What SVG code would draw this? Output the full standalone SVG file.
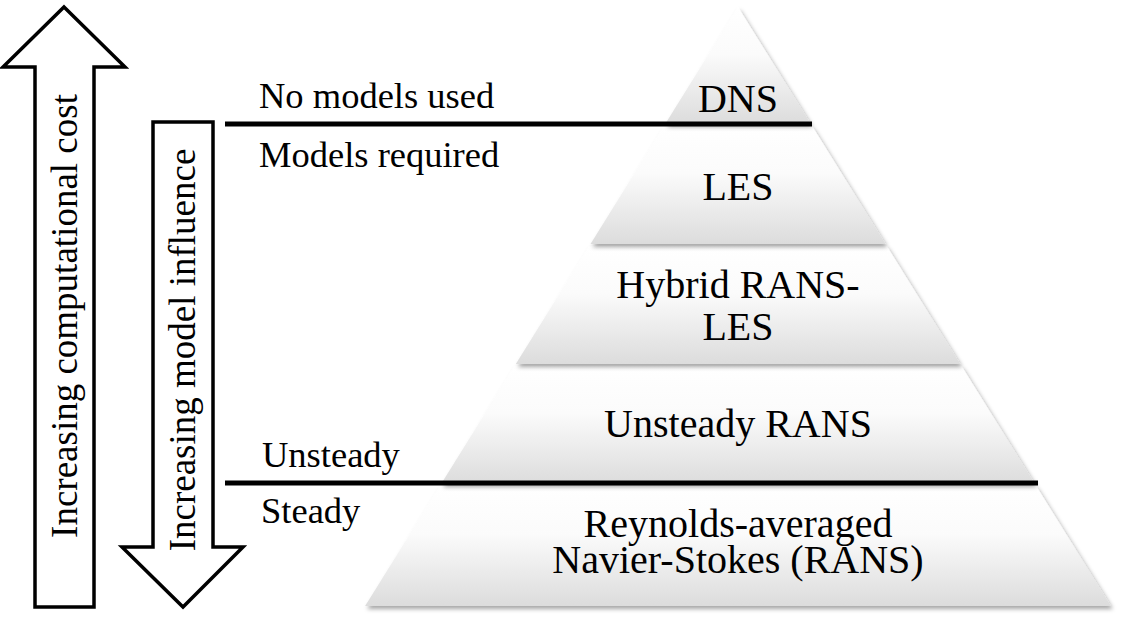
<svg xmlns="http://www.w3.org/2000/svg" width="1124" height="627" viewBox="0 0 1124 627">
  <style>
    text { font-family: "Liberation Serif", Tinos, "Times New Roman", Times, "Nimbus Roman", "Nimbus Roman No9 L", FreeSerif, "Noto Serif", "DejaVu Serif", serif; fill: #000; }
    .lbl { font-size: 36.5px; }
    .vlbl { font-size: 37px; text-anchor: middle; }
    .tier { font-size: 40px; text-anchor: middle; }
    .layer { fill: url(#grad); filter: url(#shadow); }
    .arrow { fill: #fff; stroke: #000; stroke-width: 3.5; stroke-linejoin: miter; }
    .sep { stroke: #000; stroke-width: 5; }
  </style>
  <defs>
    <linearGradient id="grad" x1="0" y1="0" x2="0" y2="1">
      <stop offset="0" stop-color="#ffffff"/>
      <stop offset="0.4" stop-color="#fbfbfb"/>
      <stop offset="1" stop-color="#dcdcdc"/>
    </linearGradient>
    <filter id="shadow" x="-10%" y="-10%" width="120%" height="130%">
      <feDropShadow dx="2" dy="3" stdDeviation="2" flood-color="#000" flood-opacity="0.35"/>
    </filter>
  </defs>
  <rect width="1124" height="627" fill="#fff"/>

  <g id="arrow-cost">
    <polygon class="arrow" points="64,7 125,67 94,67 94,607 35,607 35,67 3,67"/>
    <text class="vlbl" transform="translate(77,316) rotate(-90)">Increasing computational cost</text>
  </g>
  <g id="arrow-influence">
    <polygon class="arrow" points="153,122 213,122 213,547 243,547 183,607 122,547 153,547"/>
    <text class="vlbl" transform="translate(195,350) rotate(-90)">Increasing model influence</text>
  </g>

  <g id="layer-rans">
    <polygon class="layer" points="439.8,486 1036.2,486 1110.9,606 365.1,606"/>
    <text class="tier" x="738" y="537">Reynolds-averaged</text>
    <text class="tier" x="738" y="573">Navier-Stokes (RANS)</text>
  </g>
  <g id="layer-urans">
    <polygon class="layer" points="514.5,366 961.5,366 1034.9,484 441.1,484"/>
    <text class="tier" x="738" y="437">Unsteady RANS</text>
  </g>
  <g id="layer-hybrid">
    <polygon class="layer" points="589.2,246 886.8,246 960.2,364 515.8,364"/>
    <text class="tier" x="738" y="298">Hybrid RANS-</text>
    <text class="tier" x="738" y="340">LES</text>
  </g>
  <g id="layer-les">
    <polygon class="layer" points="663.9,126 812.1,126 885.5,244 590.5,244"/>
    <text class="tier" x="738" y="200">LES</text>
  </g>
  <g id="layer-dns">
    <polygon class="layer" points="738,7 810.8,124 665.2,124"/>
    <text class="tier" x="738" y="112">DNS</text>
  </g>

  <g id="separators">
    <line class="sep" x1="225" y1="124" x2="812" y2="124"/>
    <line class="sep" x1="225" y1="483" x2="1038" y2="483"/>
  </g>

  <g id="side-labels">
    <text class="lbl" x="259" y="108">No models used</text>
    <text class="lbl" x="259" y="167">Models required</text>
    <text class="lbl" x="262" y="467">Unsteady</text>
    <text class="lbl" x="261" y="523">Steady</text>
  </g>
</svg>
